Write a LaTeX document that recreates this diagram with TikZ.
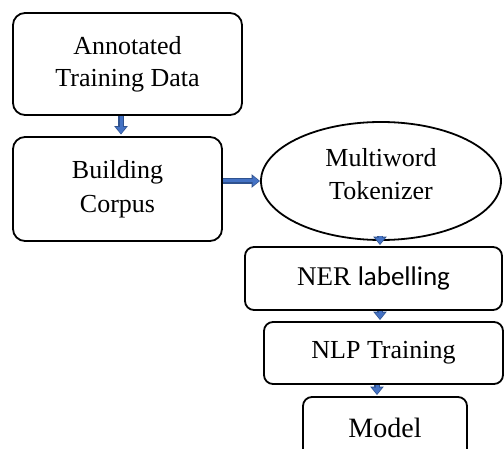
\documentclass[tikz,border=0pt]{standalone}
\usepackage{fontspec}
\setmainfont{Liberation Serif}
\newfontfamily\calib{Carlito}
\usetikzlibrary{arrows.meta,shapes.geometric,calc}
\definecolor{arrfill}{HTML}{4472C4}
\definecolor{arredge}{HTML}{2F528F}
\begin{document}
\begin{tikzpicture}[x=1pt,y=-1pt,
 box/.style={draw=black, line width=1.8pt, rounded corners=12pt, align=center,
   font=\fontsize{26}{32}\selectfont, inner sep=0pt},
 sbox/.style={box, rounded corners=9pt},
 blk/.style={arrfill, line width=3pt, -{Triangle[length=6.5pt,width=9.5pt]}, shorten >=1pt,
   preaction={draw=arredge, line width=5.5pt, -{Triangle[length=8.5pt,width=13pt]}, shorten >=0pt}}
]
\useasboundingbox (0,0) rectangle (504,449);
\clip (0,0) rectangle (504,449);
\node[box, minimum width=229pt, minimum height=102pt] (ann) at (127.5,64) {Annotated\\Training Data};
\node[box, minimum width=209pt, minimum height=104pt, font=\fontsize{26}{34}\selectfont] (build) at (117.5,189) {Building\\Corpus};
\node[draw=black, line width=1.8pt, ellipse, minimum width=240pt, minimum height=118pt, inner sep=0pt,
  label={[font=\fontsize{26}{33}\selectfont, align=center, yshift=7pt]center:Multiword\\Tokenizer}] (tok) at (381,181) {};
\node[sbox, minimum width=257pt, minimum height=63pt, font=\fontsize{27}{32}\selectfont] (ner) at (373.5,278.5) {NER {\calib labelling}};
\node[sbox, minimum width=239pt, minimum height=62pt] (nlp) at (383.5,353) {NLP Training};
\node[sbox, minimum width=164pt, minimum height=62pt, font=\fontsize{28}{32}\selectfont] (model) at (385,428) {Model};
\draw[blk] ([xshift=-6.5pt]ann.south) -- ([xshift=3.5pt,yshift=1.5pt]build.north);
\draw[blk] (build.east |- tok.west) -- (tok.west);
\draw[blk] ([xshift=-1pt,yshift=5pt]tok.south) -- ([xshift=6.5pt,yshift=1pt]ner.north);
\draw[blk] ([xshift=6.5pt]ner.south) -- ([xshift=-3.5pt,yshift=1pt]nlp.north);
\draw[blk] ([xshift=-6.5pt]nlp.south) -- ([xshift=-8pt,yshift=1pt]model.north);
\end{tikzpicture}
\end{document}
